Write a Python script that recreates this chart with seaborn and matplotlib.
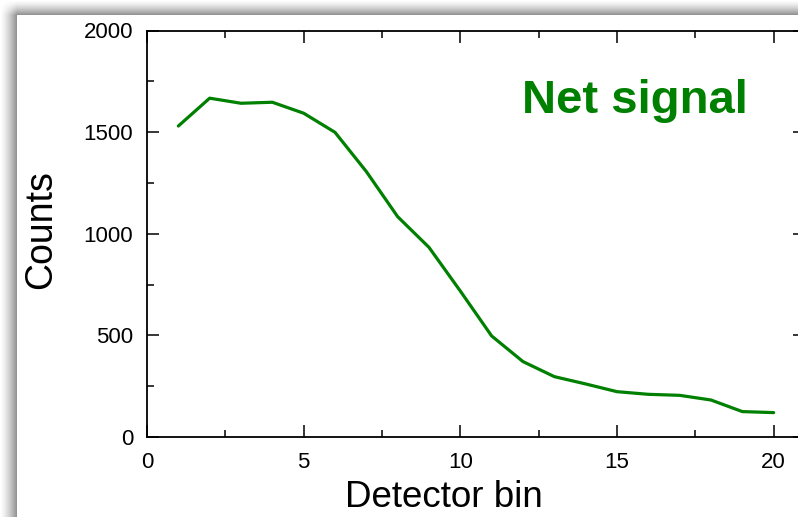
import numpy as np
import pandas as pd
import matplotlib
matplotlib.use("Agg")
import matplotlib.pyplot as plt
from matplotlib.ticker import MultipleLocator
import seaborn as sns

detector_bin = list(range(1, 21))
counts = [1530, 1667, 1642, 1647, 1593, 1499, 1306, 1084, 933, 718,
          497, 371, 297, 261, 223, 210, 205, 182, 125, 120]
x_ticks = [0, 5, 10, 15, 20]
y_ticks = [0, 500, 1000, 1500, 2000]

sns.set_theme(style="ticks")
plt.rcParams['font.family'] = ['Liberation Sans', 'DejaVu Sans']
plt.rcParams['text.color'] = 'black'
plt.rcParams['axes.labelcolor'] = 'black'
plt.rcParams['xtick.color'] = 'black'
plt.rcParams['ytick.color'] = 'black'

W, H = 798, 517
fig = plt.figure(figsize=(W / 100, H / 100), dpi=100)

# page shadow background
bg = fig.add_axes([0, 0, 1, 1], zorder=-10)
yy, xx = np.mgrid[0:H, 0:W].astype(float)
left_e, top_e = 17.0, 15.0
dx = np.clip((xx + 0.5) / left_e, 0, 1)
dy = np.clip((yy + 0.5) / top_e, 0, 1)
shade = 1 - 0.44 * (dx ** 1.4) * (dy ** 1.4)
page = (xx >= left_e) & (yy >= top_e)
shade[page] = 1.0
bg.imshow(shade, cmap='gray', vmin=0, vmax=1, aspect='auto', interpolation='nearest')
bg.set_axis_off()

ax = fig.add_axes([147 / W, (H - 437) / H, (805 - 147) / W, (437 - 30.5) / H])
df = pd.DataFrame({"Detector bin": detector_bin, "Counts": counts})
sns.lineplot(data=df, x="Detector bin", y="Counts", ax=ax, color="#008000", linewidth=2.3)

ax.set_xlim(0, 21)
ax.set_ylim(0, 2000)
ax.set_xticks(x_ticks)
ax.set_yticks(y_ticks)
ax.xaxis.set_minor_locator(MultipleLocator(2.5))
ax.yaxis.set_minor_locator(MultipleLocator(250))
ax.tick_params(which='both', direction='in', top=True, right=True, width=1.1, color='black')
ax.tick_params(which='major', length=8.5)
ax.tick_params(which='minor', length=5)
ax.tick_params(axis='y', labelsize=16, pad=10, labelcolor='black')
ax.tick_params(axis='x', labelsize=16, pad=11, labelcolor='black')
for s in ax.spines.values():
    s.set_linewidth(1.3)
    s.set_color('black')
ax.set_xlabel("Detector bin", fontsize=26.5, color='black')
ax.xaxis.set_label_coords((444 - 147) / (805 - 147), -0.105)
ax.set_ylabel("Counts", fontsize=27, color='black')
ax.yaxis.set_label_coords(-0.133, 0.51)
ax.text(522 / W, (H - 113) / H, "Net signal", transform=fig.transFigure,
        fontsize=34, fontweight='bold', color="#008000", ha='left', va='baseline')

fig.savefig("out.png", dpi=100)
